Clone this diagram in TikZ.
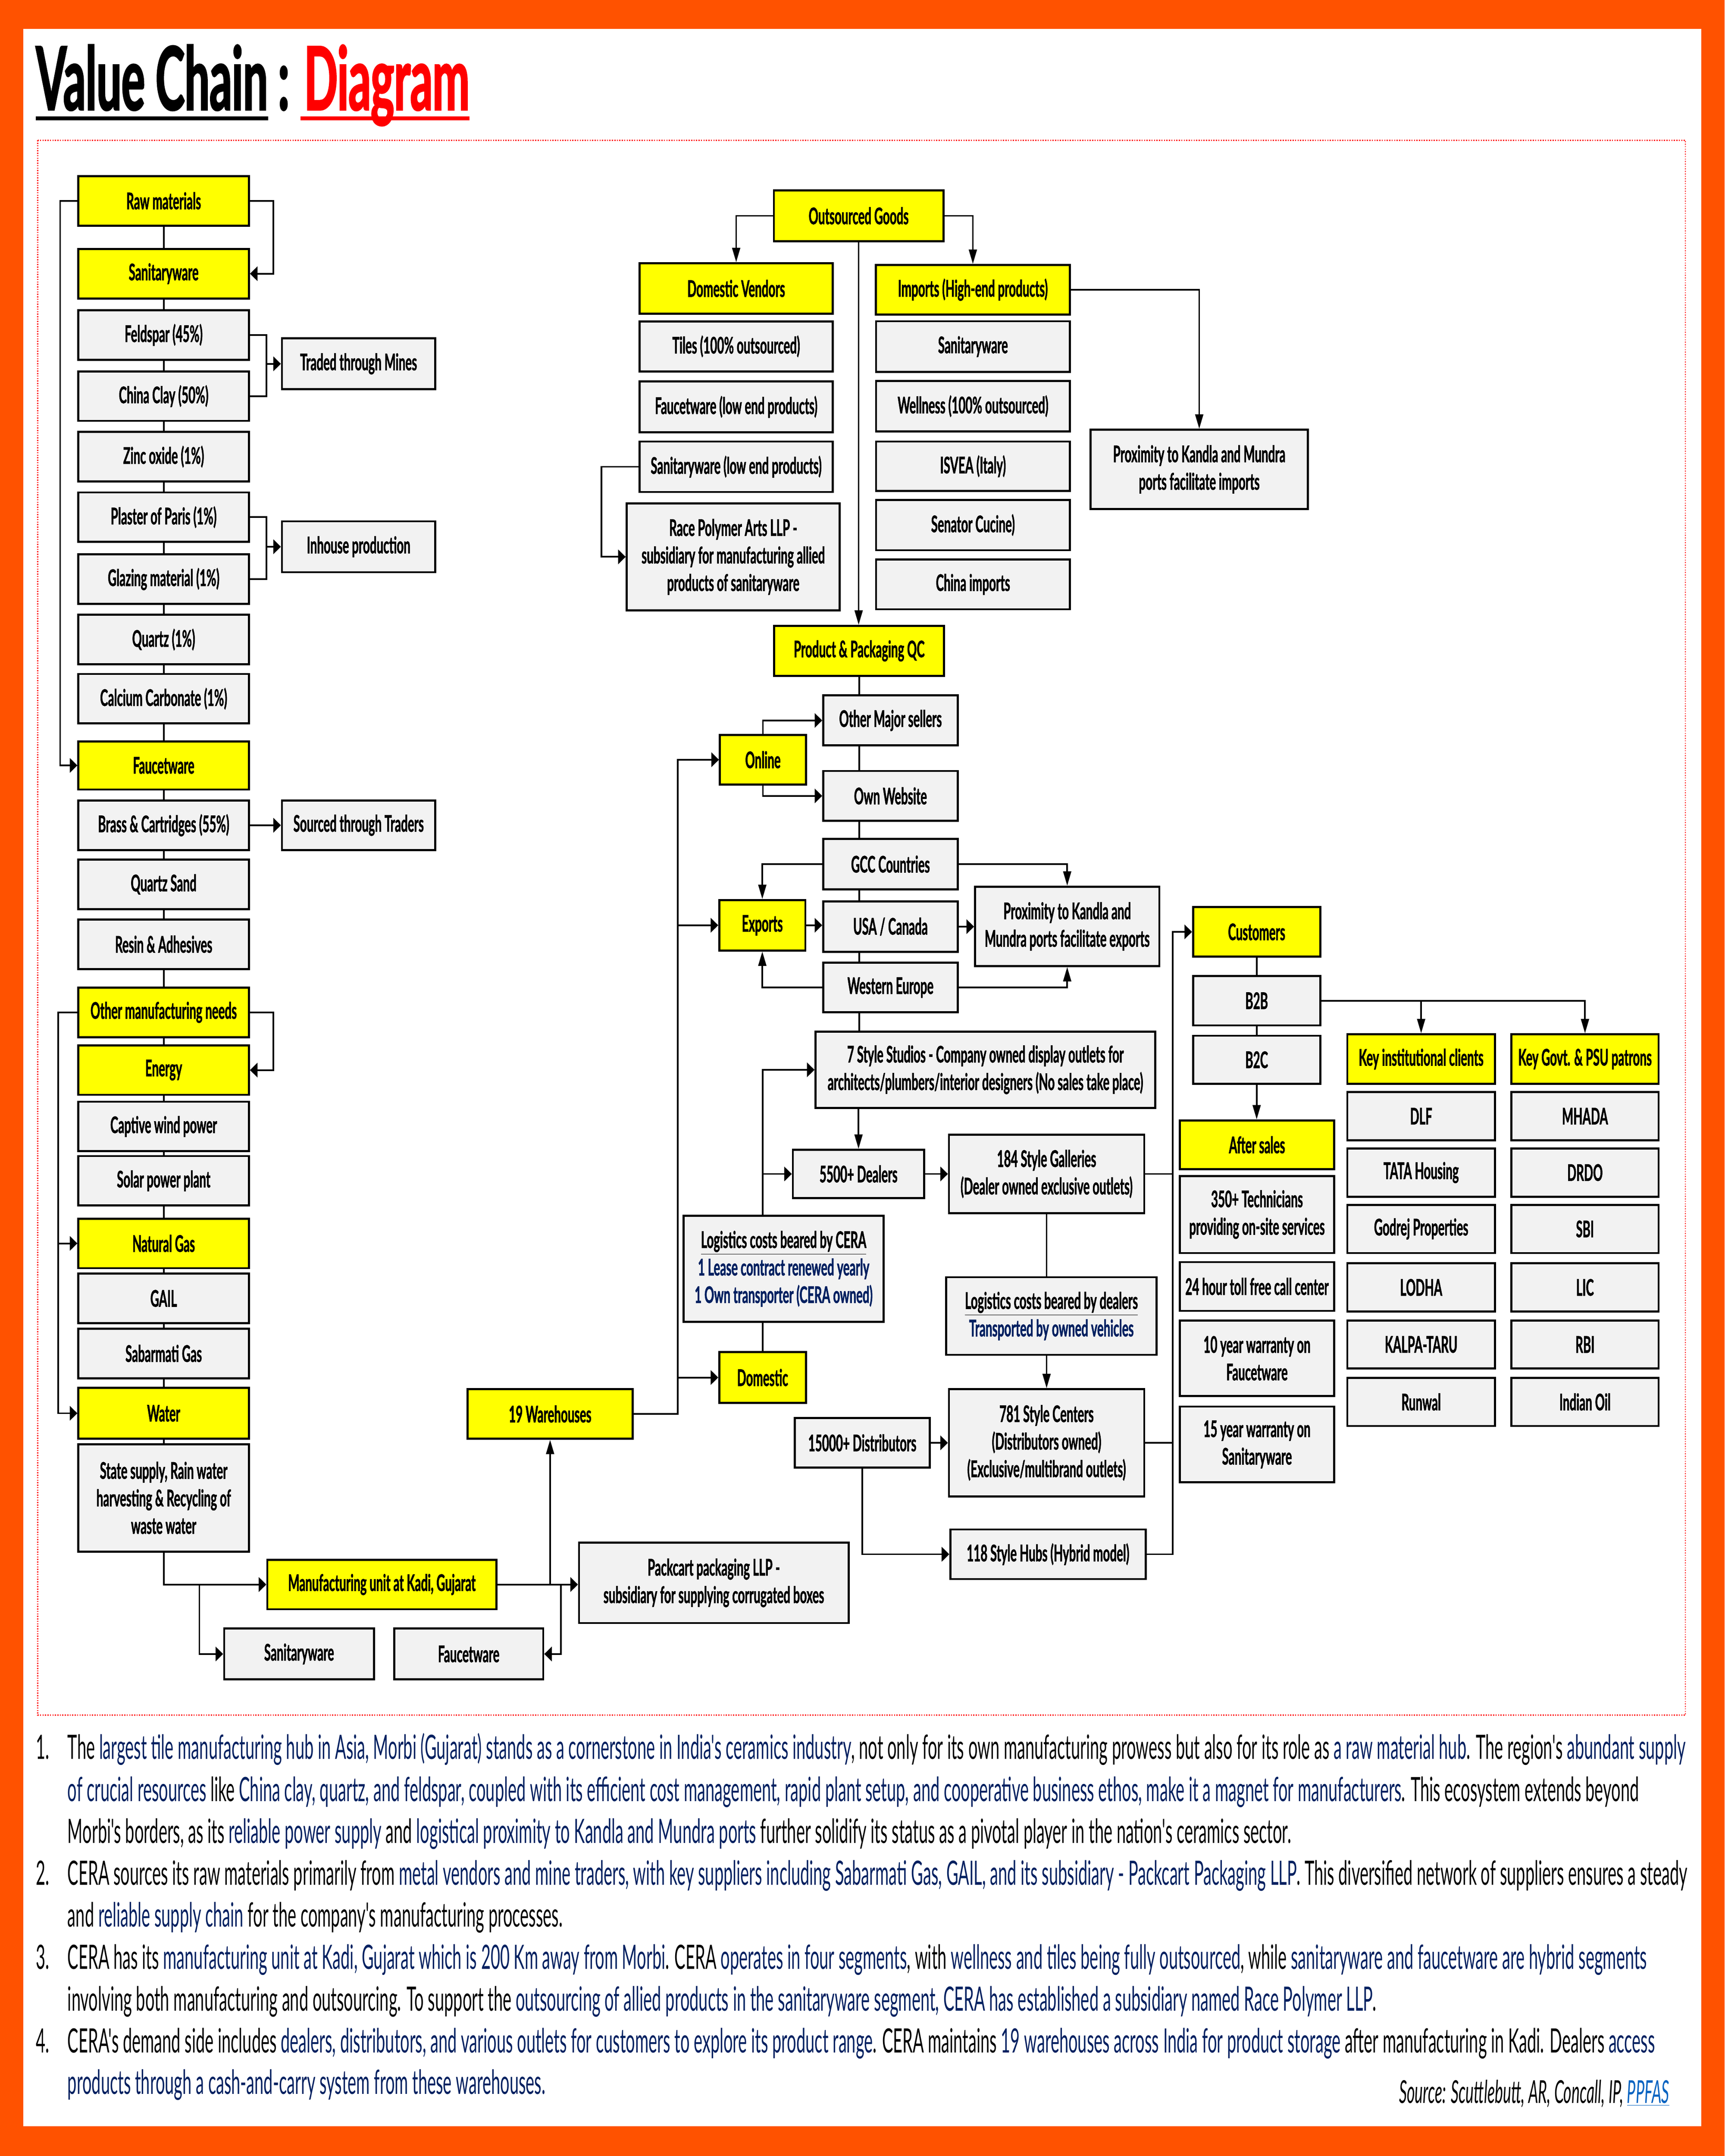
\documentclass[tikz,border=0pt]{standalone}
\usepackage{fontspec}
\newfontfamily\boxfont[FakeStretch=0.52, BoldFeatures={FakeBold=1.2}]{Lato}
\newfontfamily\bodyfont[FakeStretch=0.488]{Lato}
\newfontfamily\ttlfont[FakeStretch=0.5, BoldFeatures={FakeBold=1.5}]{Lato}
\usetikzlibrary{arrows.meta}
\definecolor{orng}{RGB}{255,82,0}
\definecolor{ylw}{RGB}{255,255,0}
\definecolor{gry}{RGB}{242,242,242}
\definecolor{navy}{RGB}{0,32,96}
\definecolor{lnk}{RGB}{5,99,193}
\pgfdeclarelayer{back}
\pgfdeclarelayer{bg}
\pgfsetlayers{back,bg,main}
\newcommand{\nv}[1]{\textcolor{navy}{#1}}
\tikzset{
  box/.style={draw, line width=1.5pt, inner sep=1pt, align=center,
    font=\boxfont\bfseries\fontsize{16.7}{20}\selectfont},
  ybox/.style={box, fill=ylw},
  gbox/.style={box, fill=gry},
  wh/.style 2 args={minimum width=#1pt, minimum height=#2pt},
  harr/.style={-{Triangle[length=5.5pt,width=10.5pt]}},
  varr/.style={-{Triangle[length=10.5pt,width=5.8pt]}},
  con/.style={line width=1.2pt},
  bline/.style={anchor=base west, inner sep=0,
    font=\bodyfont\fontsize{24.4}{30}\selectfont}
}

\begin{document}
\begin{tikzpicture}[x=1pt, y=-1pt]

  % page
  \begin{pgfonlayer}{back}
    \fill[orng] (0,0) rectangle (1254,1567.5);
    \fill[white] (17,21) rectangle (1237,1546);
    \draw[red, densely dotted, line width=0.8pt] (27.5,102) rectangle (1225.5,1247);
  \end{pgfonlayer}
  \useasboundingbox (0,0) rectangle (1254,1567.5);

  % title
  \node[anchor=base west, inner sep=0, font=\ttlfont\bfseries\fontsize{64}{70}\selectfont] (ttl) at (26,80) {Value Chain};
  \node[anchor=base west, inner sep=0, font=\ttlfont\bfseries\fontsize{64}{70}\selectfont] (ttlc) at (202,80) {:};
  \node[anchor=base west, inner sep=0, text=red, font=\ttlfont\bfseries\fontsize{64}{70}\selectfont] (ttld) at (221,80) {Diagram};
  \draw[line width=3pt] ([yshift=-6pt]ttl.base west) -- ([yshift=-6pt]ttl.base east);
  \draw[red, line width=3pt] ([xshift=-2.5pt,yshift=-6pt]ttld.base west) -- ([yshift=-6pt]ttld.base east);

  % raw materials column
  \node[ybox, wh={124}{36}] (raw) at (119,146) {Raw materials};
  \node[ybox, wh={124}{36}] (san) at (119,199) {Sanitaryware};
  \node[gbox, wh={124}{36}] (feld) at (119,243.5) {Feldspar (45\%)};
  \node[gbox, wh={124}{36}] (clay) at (119,288) {China Clay (50\%)};
  \node[gbox, wh={124}{36}] (zinc) at (119,332) {Zinc oxide (1\%)};
  \node[gbox, wh={124}{36}] (pop) at (119,376) {Plaster of Paris (1\%)};
  \node[gbox, wh={124}{36}] (glaze) at (119,421) {Glazing material (1\%)};
  \node[gbox, wh={124}{36}] (qtz) at (119,465) {Quartz (1\%)};
  \node[gbox, wh={124}{36}] (calc) at (119,508) {Calcium Carbonate (1\%)};
  \node[ybox, wh={124}{35}] (fau) at (119,556.5) {Faucetware};
  \node[gbox, wh={124}{36}] (brass) at (119,600) {Brass \& Cartridges (55\%)};
  \node[gbox, wh={124}{36}] (qsand) at (119,643) {Quartz Sand};
  \node[gbox, wh={124}{36}] (resin) at (119,686.5) {Resin \& Adhesives};
  \node[ybox, wh={124}{36}] (omn) at (119,736) {Other manufacturing needs};
  \node[ybox, wh={124}{36}] (energy) at (119,778) {Energy};
  \node[gbox, wh={124}{36}] (wind) at (119,819) {Captive wind power};
  \node[gbox, wh={124}{36}] (solar) at (119,858.5) {Solar power plant};
  \node[ybox, wh={124}{36}] (gas) at (119,904) {Natural Gas};
  \node[gbox, wh={124}{36}] (gail) at (119,944) {GAIL};
  \node[gbox, wh={124}{36}] (sabg) at (119,984) {Sabarmati Gas};
  \node[ybox, wh={124}{37}] (water) at (119,1027.5) {Water};
  \node[gbox, wh={124}{78}] (wsup) at (119,1089) {State supply, Rain water\\harvesting \& Recycling of\\waste water};
  \node[gbox, wh={111.5}{37}] (mines) at (260.75,264.5) {Traded through Mines};
  \node[gbox, wh={111.5}{37}] (inh) at (260.75,397.5) {Inhouse production};
  \node[gbox, wh={111.5}{36}] (trad) at (260.75,600) {Sourced through Traders};

  % manufacturing
  \node[ybox, wh={166.6}{36}] (kadi) at (277.7,1152) {Manufacturing unit at Kadi, Gujarat};
  \node[gbox, wh={109}{37}] (msan) at (217.5,1202.5) {Sanitaryware};
  \node[gbox, wh={108.4}{37}] (mfau) at (340.8,1202.5) {Faucetware};
  \node[gbox, wh={196}{58.4}] (pack) at (519,1150.8) {Packcart packaging LLP -\\subsidiary for supplying corrugated boxes};
  \node[ybox, wh={120}{36}] (whs) at (400,1028) {19 Warehouses};

  % outsourced goods
  \node[ybox, wh={123.3}{37}] (outs) at (624.35,156.9) {Outsourced Goods};
  \node[ybox, wh={140.6}{36.6}] (domv) at (535.3,209.7) {Domestic Vendors};
  \node[ybox, wh={141.2}{36}] (imp) at (707.4,210.65) {Imports (High-end products)};
  \node[gbox, wh={140.6}{36.4}] (tiles) at (535.3,251.8) {Tiles (100\% outsourced)};
  \node[gbox, wh={140.6}{36.9}] (fle) at (535.3,295.85) {Faucetware (low end products)};
  \node[gbox, wh={140.6}{36.7}] (sle) at (535.3,339.35) {Sanitaryware (low end products)};
  \node[gbox, wh={154.9}{77.7}] (race) at (533.15,404.85) {Race Polymer Arts LLP -\\subsidiary for manufacturing allied\\products of sanitaryware};
  \node[gbox, wh={141}{36.9}] (isan) at (707.5,252) {Sanitaryware};
  \node[gbox, wh={141}{36.6}] (well) at (707.5,295.3) {Wellness (100\% outsourced)};
  \node[gbox, wh={141}{36}] (isvea) at (707.5,339) {ISVEA (Italy)};
  \node[gbox, wh={141}{36.6}] (sen) at (707.5,381.7) {Senator Cucine)};
  \node[gbox, wh={141}{36.3}] (chn) at (707.5,424.85) {China imports};
  \node[gbox, wh={158}{57.5}] (pimp) at (872,341.25) {Proximity to Kandla and Mundra\\ports facilitate imports};

  % sales channels
  \node[ybox, wh={123.5}{36.4}] (qc) at (624.75,473.2) {Product \& Packaging QC};
  \node[gbox, wh={97.8}{36.4}] (oms) at (647.5,523.8) {Other Major sellers};
  \node[gbox, wh={97.8}{36.3}] (web) at (647.5,578.65) {Own Website};
  \node[gbox, wh={97.8}{36.5}] (gcc) at (647.5,628.25) {GCC Countries};
  \node[gbox, wh={97.8}{36.6}] (usa) at (647.5,673.7) {USA / Canada};
  \node[gbox, wh={97.8}{36}] (weu) at (647.5,718) {Western Europe};
  \node[ybox, wh={62.5}{36}] (onl) at (554.75,552.35) {Online};
  \node[ybox, wh={62.6}{36.6}] (expo) at (554.3,672.7) {Exports};
  \node[ybox, wh={63}{37}] (dom) at (554.5,1001.5) {Domestic};
  \node[gbox, wh={134}{57.6}] (pexp) at (776,673.5) {Proximity to Kandla and\\Mundra ports facilitate exports};

  % domestic network
  \node[gbox, wh={247}{55.6}] (studio) at (716.5,777.8) {7 Style Studios - Company owned display outlets for\\architects/plumbers/interior designers (No sales take place)};
  \node[gbox, wh={95.5}{35}] (dlr) at (624.25,853.5) {5500+ Dealers};
  \node[gbox, wh={142}{57}] (gal) at (761,853.5) {184 Style Galleries\\(Dealer owned exclusive outlets)};
  \node[gbox, wh={145.6}{77}] (lcera) at (569.8,922.5) {\underline{Logistics costs beared by CERA}\\\nv{1 Lease contract renewed yearly}\\\nv{1 Own transporter (CERA owned)}};
  \node[gbox, wh={153}{56.4}] (ldlr) at (764.5,956.8) {\underline{Logistics costs beared by dealers}\\\nv{Transported by owned vehicles}};
  \node[gbox, wh={142}{78}] (ctr) at (761,1049) {781 Style Centers\\(Distributors owned)\\(Exclusive/multibrand outlets)};
  \node[gbox, wh={98}{36}] (dist) at (627,1049) {15000+ Distributors};
  \node[gbox, wh={142}{36}] (hub) at (762,1130) {118 Style Hubs (Hybrid model)};

  % customers
  \node[ybox, wh={92.5}{36}] (cust) at (913.75,677.5) {Customers};
  \node[gbox, wh={92.5}{36}] (b2b) at (913.75,727.5) {B2B};
  \node[gbox, wh={92.5}{35}] (b2c) at (913.75,770.5) {B2C};
  \node[ybox, wh={112}{35.4}] (aft) at (914,832.3) {After sales};
  \node[gbox, wh={112}{56}] (tech) at (914,883) {350+ Technicians\\providing on-site services};
  \node[gbox, wh={112}{35.4}] (call) at (914,935.3) {24 hour toll free call center};
  \node[gbox, wh={112}{55}] (wfau) at (914,987.5) {10 year warranty on\\Faucetware};
  \node[gbox, wh={112}{55}] (wsan) at (914,1050.15) {15 year warranty on\\Sanitaryware};
  \node[ybox, wh={107.3}{36}] (kic) at (1033.35,770) {Key institutional clients};
  \node[gbox, wh={107.3}{35}] (dlf) at (1033.35,811.5) {DLF};
  \node[gbox, wh={107.3}{35}] (tata) at (1033.35,852.5) {TATA Housing};
  \node[gbox, wh={107.3}{35}] (godrej) at (1033.35,893.5) {Godrej Properties};
  \node[gbox, wh={107.3}{35}] (lodha) at (1033.35,936) {LODHA};
  \node[gbox, wh={107.3}{35}] (kalpa) at (1033.35,977.5) {KALPA-TARU};
  \node[gbox, wh={107.3}{35}] (runwal) at (1033.35,1019.25) {Runwal};
  \node[ybox, wh={107}{36}] (kgp) at (1152.5,770) {Key Govt. \& PSU patrons};
  \node[gbox, wh={107}{35}] (mhada) at (1152.5,811.5) {MHADA};
  \node[gbox, wh={107}{35}] (drdo) at (1152.5,852.5) {DRDO};
  \node[gbox, wh={107}{35}] (sbi) at (1152.5,893.5) {SBI};
  \node[gbox, wh={107}{35}] (lic) at (1152.5,936) {LIC};
  \node[gbox, wh={107}{35}] (rbi) at (1152.5,977.5) {RBI};
  \node[gbox, wh={107}{35}] (ioil) at (1152.5,1019.25) {Indian Oil};

  % connectors
  \begin{pgfonlayer}{bg}
  \begin{scope}[con]
    \draw (raw.south) -- (wsup.north);
    \draw[harr] (raw.west) -- ++(-12.5,0) |- (fau.west);
    \draw[harr] (raw.east) -- ++(17,0) |- (san.east);
    \draw (feld.east) -- ++(12,0) |- (clay.east);
    \draw[harr] ([xshift=12pt]feld.east) |- (mines.west);
    \draw (pop.east) -- ++(12,0) |- (glaze.east);
    \draw[harr] ([xshift=12pt]pop.east) |- (inh.west);
    \draw[harr] (brass.east) -- (trad.west);
    \draw[harr] (omn.west) -- ++(-14,0) |- (gas.west);
    \draw[harr] ([xshift=-14pt]omn.west) |- (water.west);
    \draw[harr] (omn.east) -- ++(17,0) |- (energy.east);

    \draw[harr] (wsup.south) |- (kadi.west);
    \draw[harr] (wsup.south |- kadi.west) ++(26,0) |- (msan.west);
    \draw[harr] (kadi.east) -- (kadi.east -| pack.west);
    \draw[varr] (kadi.east -| whs.south) -- (whs.south);
    \draw[harr] ([xshift=46pt]kadi.east) |- (mfau.east);

    \draw[harr] (whs.east) -- ++(32,0) |- (onl.west);
    \draw[harr] ([xshift=32pt]whs.east) |- (expo.west);
    \draw[harr] ([xshift=32pt]whs.east) |- (dom.west);

    \draw[varr] (outs.west) -| (domv.north);
    \draw[varr] (outs.east) -| (imp.north);
    \draw[varr] (outs.south) -- (outs.south |- qc.north);
    \draw[varr] (imp.east) -| (pimp.north);
    \draw[harr] (sle.west) -- ++(-27,0) |- (race.west);

    \draw (qc.south) -- (qc.south |- studio.north);
    \draw[harr] (onl.north) |- (oms.west);
    \draw[harr] (onl.south) |- (web.west);
    \draw[varr] (gcc.west) -| (expo.north);
    \draw[varr] (weu.west) -| (expo.south);
    \draw[harr] (expo.east) -- (expo.east -| usa.west);
    \draw[varr] (gcc.east) -| (pexp.north);
    \draw[harr] (usa.east) -- (usa.east -| pexp.west);
    \draw[varr] (weu.east) -| (pexp.south);

    \draw[harr] (dom.north) |- (studio.west);
    \draw[harr] (dom.north |- dlr.west) -- (dlr.west);
    \draw[varr] (studio.south -| dlr.north) -- (dlr.north);
    \draw[harr] (dlr.east) -- (dlr.east -| gal.west);
    \draw (gal.south) -- (gal.south |- ldlr.north);
    \draw[varr] (ctr.north |- ldlr.south) -- (ctr.north);
    \draw[harr] (dist.east) -- (ctr.west);
    \draw[harr] (dist.south) |- (hub.west);
    \draw[harr] (hub.east) -- ++(19,0) |- (cust.west);
    \draw (gal.east) -- ++(20,0);
    \draw (ctr.east) -- ++(20,0);

    \draw (cust.south) -- (b2b.north);
    \draw (b2b.south) -- (b2c.north);
    \draw[varr] (b2c.south) -- (b2c.south |- aft.north);
    \draw[varr] (b2b.east) -| (kgp.north);
    \draw[varr] (b2b.east -| kic.north) -- (kic.north);
  \end{scope}
  \end{pgfonlayer}

  % notes
  \node[bline] (n1) at (26,1279) {1.};
  \node[bline] (t1a) at (49,1279) {The \nv{largest tile manufacturing hub in Asia, Morbi (Gujarat) stands as a cornerstone in India's ceramics industry}, not only for its own manufacturing prowess but also for its role as \nv{a raw material hub}. The region's \nv{abundant supply}};
  \node[bline] (t1b) at (49,1309.5) {\nv{of crucial resources} like \nv{China clay, quartz, and feldspar, coupled with its efficient cost management, rapid plant setup, and cooperative business ethos, make it a magnet for manufacturers}. This ecosystem extends beyond};
  \node[bline] (t1c) at (49,1340) {Morbi's borders, as its \nv{reliable power supply} and \nv{logistical proximity to Kandla and Mundra ports} further solidify its status as a pivotal player in the nation's ceramics sector.};
  \node[bline] (n2) at (26,1370.5) {2.};
  \node[bline] (t2a) at (49,1370.5) {CERA sources its raw materials primarily from \nv{metal vendors and mine traders, with key suppliers including Sabarmati Gas, GAIL, and its subsidiary - Packcart Packaging LLP}. This diversified network of suppliers ensures a steady};
  \node[bline] (t2b) at (49,1401) {and \nv{reliable supply chain} for the company's manufacturing processes.};
  \node[bline] (n3) at (26,1431.5) {3.};
  \node[bline] (t3a) at (49,1431.5) {CERA has its \nv{manufacturing unit at Kadi, Gujarat which is 200 Km away from Morbi}. CERA \nv{operates in four segments}, with \nv{wellness and tiles being fully outsourced}, while \nv{sanitaryware and faucetware are hybrid segments}};
  \node[bline] (t3b) at (49,1462) {involving both manufacturing and outsourcing. To support the \nv{outsourcing of allied products in the sanitaryware segment, CERA has established a subsidiary named Race Polymer LLP}.};
  \node[bline] (n4) at (26,1492.5) {4.};
  \node[bline] (t4a) at (49,1492.5) {CERA's demand side includes \nv{dealers, distributors, and various outlets for customers to explore its product range}. CERA maintains \nv{19 warehouses across India for product storage} after manufacturing in Kadi. Dealers \nv{access}};
  \node[bline] (t4b) at (49,1522.5) {\nv{products through a cash-and-carry system from these warehouses.}};
  \node[anchor=base east, inner sep=0, font=\bodyfont\itshape\fontsize{23}{26}\selectfont] (src) at (1214,1529) {Source: Scuttlebutt, AR, Concall, IP, \textcolor{lnk}{\underline{PPFAS}}};
\end{tikzpicture}
\end{document}
